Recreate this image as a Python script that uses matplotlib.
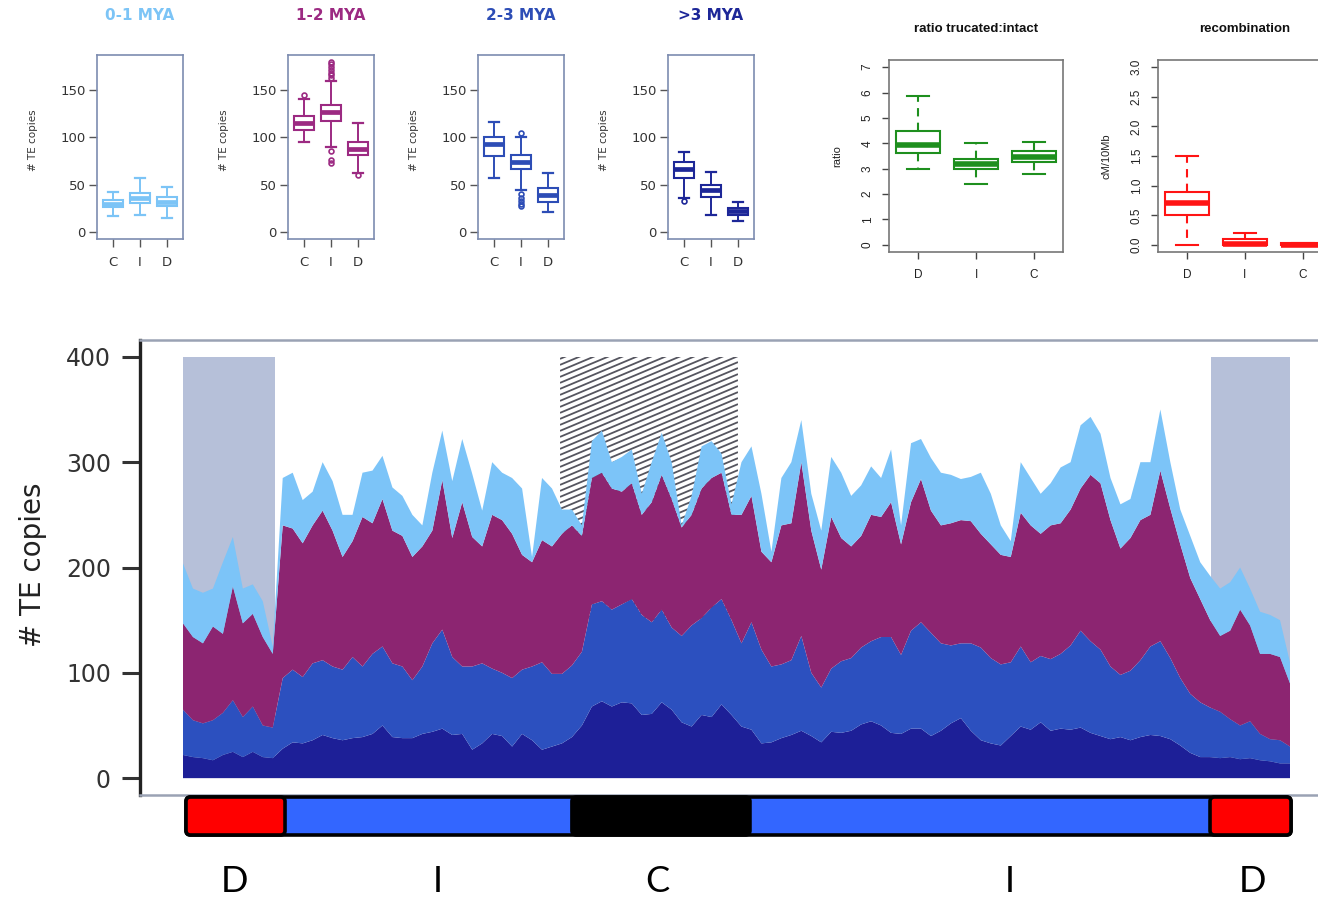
import numpy as np
import matplotlib
matplotlib.use('Agg')
import matplotlib.pyplot as plt
from matplotlib.patches import Rectangle, FancyBboxPatch
from matplotlib.collections import LineCollection

W, H = 1318, 898

# ---------------- data ----------------
age_classes = ['0-1 MYA', '1-2 MYA', '2-3 MYA', '>3 MYA']
small_regions = ['C', 'I', 'D']
# [whislo, q1, median, q3, whishi] for C, I, D
box_0_1 = [[17, 26, 30, 34, 42], [18, 31, 36, 41, 57], [15, 27, 32, 37, 47]]
box_1_2 = [[95, 108, 115, 122, 141], [90, 117, 127, 134, 160], [62, 81, 88, 95, 115]]
box_2_3 = [[57, 80, 93, 100, 116], [44, 67, 74, 81, 100], [21, 32, 39, 46, 62]]
box_gt3 = [[36, 57, 66, 74, 84], [18, 37, 44, 50, 63], [12, 18, 22, 25, 32]]
fliers_0_1 = [[], [], []]
fliers_1_2 = [[145], [163, 166, 168, 171, 174, 177, 180, 85, 76, 73], [60]]
fliers_2_3 = [[], [105, 40, 36, 33, 30, 27], []]
fliers_gt3 = [[33], [], []]

ratio_regions = ['D', 'I', 'C']
ratio_box = [[3.0, 3.6, 3.95, 4.5, 5.85], [2.4, 3.0, 3.2, 3.4, 4.0], [2.8, 3.25, 3.45, 3.7, 4.05]]
recomb_box = [[0.0, 0.5, 0.7, 0.9, 1.5], [0.0, 0.0, 0.02, 0.1, 0.2], [0.0, 0.0, 0.0, 0.03, 0.03]]

# TE copies per window along the chromosome, by age class
te_gt3 = [22, 20, 19, 17, 22, 25, 20, 25, 20, 19, 28, 34, 33, 36, 41, 38, 36, 38, 39, 42, 50, 39, 38, 38, 42, 44, 47, 41, 42,
          27, 33, 42, 40, 30, 42, 36, 27, 30, 33, 39, 50, 68, 73, 68, 72, 71, 60, 61, 72, 65, 53, 49, 60, 58, 70, 60, 49,
          46, 33, 34, 38, 41, 45, 40, 34, 44, 43, 45, 51, 54, 50, 43, 42, 47, 47, 40, 45, 52, 57, 45, 36, 33, 31, 40, 49,
          46, 53, 45, 47, 46, 48, 43, 40, 37, 39, 36, 39, 41, 40, 37, 31, 24, 20, 20, 19, 20, 18, 19, 17, 16, 14, 14]
te_2_3 = [43, 35, 33, 38, 40, 49, 38, 43, 30, 29, 67, 69, 63, 73, 71, 68, 67, 77, 67, 76, 75, 70, 68, 55, 64, 84, 94, 74, 64,
          79, 76, 62, 60, 65, 61, 70, 83, 69, 66, 68, 70, 97, 95, 92, 93, 99, 95, 87, 88, 78, 82, 96, 92, 104, 100, 90, 79,
          102, 89, 72, 70, 71, 90, 60, 52, 60, 68, 69, 73, 76, 84, 91, 75, 93, 101, 98, 83, 74, 71, 83, 88, 81, 77, 70, 76,
          64, 63, 68, 71, 80, 92, 87, 82, 69, 59, 66, 73, 84, 90, 77, 64, 56, 52, 47, 44, 36, 32, 35, 25, 21, 22, 16]
te_1_2 = [82, 79, 76, 89, 75, 108, 89, 88, 84, 70, 145, 134, 127, 131, 142, 129, 107, 110, 142, 124, 140, 126, 124, 117, 114, 107, 142, 113, 156,
          123, 111, 146, 145, 137, 109, 99, 116, 121, 133, 133, 110, 120, 122, 115, 107, 110, 95, 114, 128, 122, 103, 105, 123, 123, 120, 100, 122,
          120, 93, 99, 132, 130, 165, 135, 112, 144, 117, 106, 106, 120, 114, 128, 105, 122, 136, 116, 112, 116, 117, 116, 108, 108, 104, 100, 127,
          130, 116, 127, 124, 129, 135, 158, 158, 139, 120, 126, 133, 125, 162, 142, 127, 110, 98, 83, 72, 84, 110, 91, 76, 81, 79, 60]
te_0_1 = [57, 46, 48, 36, 68, 47, 33, 28, 34, 7, 45, 53, 41, 32, 46, 47, 40, 25, 42, 50, 41, 41, 38, 40, 20, 55, 47, 54, 60,
          60, 34, 50, 45, 53, 63, 5, 59, 55, 23, 15, 10, 35, 40, 25, 33, 32, 20, 38, 40, 35, 2, 18, 40, 35, 18, 10, 50,
          47, 55, 10, 45, 58, 40, 35, 37, 57, 62, 48, 48, 46, 37, 50, 18, 56, 38, 50, 50, 46, 39, 42, 58, 48, 28, 15, 48,
          45, 38, 40, 53, 45, 60, 55, 47, 40, 42, 37, 55, 50, 58, 44, 33, 40, 35, 42, 45, 46, 40, 35, 40, 37, 35, 20]

main_yticks = [0, 100, 200, 300, 400]
shade_spans = [(0.0, 9.22), (103.1, 111.0)]
shade_top = 400
hatch_span = (37.8, 55.65)
hatch_bottom = 150

chrom_regions = ['D', 'I', 'C', 'I', 'D']
chrom_bounds = [0.3, 10.23, 39.0, 56.85, 102.98, 111.1]
chrom_label_pos = [5.2, 25.5, 47.6, 82.9, 107.2]

# ---------------- styling ----------------
age_colors = ['#7CC4F6', '#9C2A82', '#2D4DB6', '#1D2798']
stack_colors = ['#1D1F97', '#2C50BF', '#8C2571', '#7CC4F8']
frame_col = '#7D8CB0'

fig = plt.figure(figsize=(W / 100, H / 100), dpi=100)


def px_axes(x0, y0, x1, y1):
    return fig.add_axes([x0 / W, 1 - y1 / H, (x1 - x0) / W, (y1 - y0) / H])


def make_stats(boxes, fliers, labels):
    out = []
    for b, f, lab in zip(boxes, fliers, labels):
        out.append(dict(label=lab, whislo=b[0], q1=b[1], med=b[2], q3=b[3], whishi=b[4], fliers=f))
    return out


# ---------------- small MYA panels ----------------
panel_lefts = [97, 288, 478, 668]
all_boxes = [box_0_1, box_1_2, box_2_3, box_gt3]
all_fliers = [fliers_0_1, fliers_1_2, fliers_2_3, fliers_gt3]
for j in range(4):
    left = panel_lefts[j]
    ax = px_axes(left, 55, left + 86, 239)
    col = age_colors[j]
    stats = make_stats(all_boxes[j], all_fliers[j], small_regions)
    ax.bxp(stats, positions=[1, 2, 3], widths=0.72, capwidths=0.36, patch_artist=True,
           boxprops=dict(facecolor='white', edgecolor=col, linewidth=1.5),
           medianprops=dict(color=col, linewidth=3.4, solid_capstyle='butt'),
           whiskerprops=dict(color=col, linewidth=1.4),
           capprops=dict(color=col, linewidth=1.6),
           flierprops=dict(marker='o', markerfacecolor='none', markeredgecolor=col, markersize=3.5,
                           markeredgewidth=1.2))
    ax.set_xlim(0.4, 3.6)
    ax.set_ylim(-7.5, 187)
    ax.set_yticks([0, 50, 100, 150])
    ax.set_xticks([1, 2, 3])
    ax.set_xticklabels(small_regions)
    ax.tick_params(axis='both', length=6, width=1, color='#555555', labelsize=9.5, labelcolor='#333333')
    ax.tick_params(axis='x', pad=6)
    ax.tick_params(axis='y', pad=2)
    for s in ax.spines.values():
        s.set_color(frame_col)
        s.set_linewidth(1.2)
    fig.text((left + 43) / W, 1 - 16 / H, age_classes[j], color=col, fontsize=11, fontweight='bold',
             ha='center', va='center')
    fig.text((left - 64) / W, 1 - 140 / H, '# TE copies', rotation=90, fontsize=7.5, color='#333333',
             ha='center', va='center')


# ---------------- R-style panels ----------------
def r_panel(x0, x1, boxes, col, ylim, yticks, yticklabels, ylabel, title, title_x, ylabel_x):
    ax = px_axes(x0, 60, x1, 252)
    stats = make_stats(boxes, [[], [], []], ratio_regions)
    ax.bxp(stats, positions=[1, 2, 3], widths=0.76, capwidths=0.38, patch_artist=True,
           boxprops=dict(facecolor='white', edgecolor=col, linewidth=1.5),
           medianprops=dict(color=col, linewidth=4, solid_capstyle='butt'),
           whiskerprops=dict(color=col, linewidth=1.5, linestyle=(0, (4, 3))),
           capprops=dict(color=col, linewidth=1.5), showfliers=False)
    ax.set_xlim(0.5, 3.5)
    ax.set_ylim(*ylim)
    ax.set_yticks(yticks)
    ax.set_yticklabels(yticklabels, rotation=90, va='center', fontfamily='Liberation Sans')
    ax.set_xticks([1, 2, 3])
    ax.set_xticklabels(ratio_regions, fontfamily='Liberation Sans')
    ax.tick_params(axis='both', length=5, width=1, color='#444444', labelsize=8.5, labelcolor='#222222')
    ax.tick_params(axis='x', pad=7)
    ax.tick_params(axis='y', pad=6)
    for s in ax.spines.values():
        s.set_color('#777777')
        s.set_linewidth(1.2)
    fig.text(title_x / W, 1 - 29 / H, title, fontsize=9.5, fontweight='bold',
             ha='center', va='center', family='Liberation Sans', color='#111111')
    fig.text(ylabel_x / W, 1 - 156 / H, ylabel, rotation=90, fontsize=8, ha='center', va='center',
             family='Liberation Sans', color='#222222')
    return ax


r_panel(889, 1063, ratio_box, '#1E8F1E', (-0.28, 7.28), list(range(8)), [str(v) for v in range(8)],
        'ratio', 'ratio trucated:intact', 976, 837)
rec_ticks = [0.0, 0.5, 1.0, 1.5, 2.0, 2.5, 3.0]
r_panel(1158, 1332, recomb_box, '#FF1414', (-0.12, 3.12), rec_ticks, ['%.1f' % v for v in rec_ticks],
        'cM/10Mb', 'recombination', 1245, 1107)

# ---------------- main stacked plot ----------------
x = np.arange(len(te_gt3))
px_per_x = 1107 / (len(te_gt3) - 1)
xl = (-(183 - 140) / px_per_x, (len(te_gt3) - 1) + (1330 - 1290) / px_per_x)

axm = px_axes(140, 340, 1330, 795)
axm.set_xlim(*xl)
axm.set_ylim(-16, 416)

for (a, b) in shade_spans:
    axm.add_patch(Rectangle((a, 0), b - a, shade_top, facecolor='#B6C0D9', edgecolor='none', zorder=1))

# hatched centromere box (shallow diagonal lines), drawn behind the stack
hx0, hx1 = hatch_span
hrect = Rectangle((hx0, hatch_bottom), hx1 - hx0, shade_top - hatch_bottom, facecolor='none', edgecolor='none')
axm.add_patch(hrect)
slope = 0.42 * px_per_x / 1.053
spacing = 6.0 / 1.053
segs = []
yk = hatch_bottom - slope * (hx1 - hx0) - spacing
while yk < shade_top + spacing:
    segs.append([(hx0, yk), (hx1, yk + slope * (hx1 - hx0))])
    yk += spacing
lc = LineCollection(segs, colors='#55555F', linewidths=1.3, zorder=1.5, antialiaseds=True)
axm.add_collection(lc)
lc.set_clip_path(hrect)

axm.stackplot(x, te_gt3, te_2_3, te_1_2, te_0_1, colors=stack_colors, linewidth=0, zorder=2)

axm.set_xticks([])
axm.set_yticks(main_yticks)
axm.tick_params(axis='y', length=13, width=2.2, color='#333333', labelsize=17, labelcolor='#333333', pad=8)
axm.spines['left'].set_color('#222222')
axm.spines['left'].set_linewidth(2.4)
for side in ['top', 'bottom']:
    axm.spines[side].set_color('#9AA2B4')
    axm.spines[side].set_linewidth(1.8)
axm.spines['right'].set_visible(False)
fig.text(33 / W, 1 - 565 / H, '# TE copies', rotation=90, fontsize=20, color='#222222', ha='center', va='center')

# ---------------- chromosome bar ----------------
axc = px_axes(140, 790, 1330, 840)
axc.set_xlim(*xl)
axc.set_ylim(0, 50 / px_per_x)
axc.axis('off')
y0 = (840 - 835) / px_per_x
hb = 38 / px_per_x
region_colors = {'D': '#FF0000', 'I': '#3366FF', 'C': '#000000'}
axc.add_patch(FancyBboxPatch((chrom_bounds[0], y0), chrom_bounds[-1] - chrom_bounds[0], hb,
                             boxstyle='round,pad=0,rounding_size=0.45', facecolor='#3366FF',
                             edgecolor='black', linewidth=2.6, zorder=1))
for i, reg in enumerate(chrom_regions):
    a, b = chrom_bounds[i], chrom_bounds[i + 1]
    if reg == 'I':
        continue
    axc.add_patch(FancyBboxPatch((a, y0), b - a, hb, boxstyle='round,pad=0,rounding_size=0.45',
                                 facecolor=region_colors[reg], edgecolor='black', linewidth=2.6, zorder=2))
for reg, p in zip(chrom_regions, chrom_label_pos):
    axc.text(p, (840 - 882) / px_per_x, reg, fontsize=26, family='Lato', ha='center', va='center',
             color='black', clip_on=False)

fig.savefig('out.png', dpi=100)
